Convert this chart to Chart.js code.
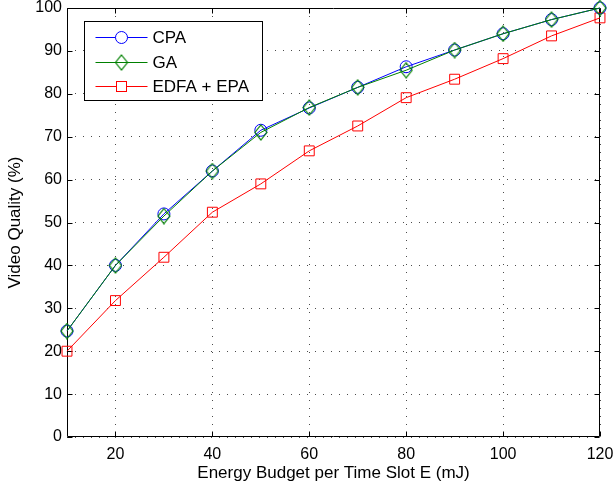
<!DOCTYPE html>
<html>
<head>
<meta charset="utf-8">
<title>Video Quality vs Energy Budget</title>
<script src="https://cdn.jsdelivr.net/npm/chart.js"></script>
<style>
    html, body { margin: 0; padding: 0; background: #fff; }
    #wrap { width: 615px; height: 489px; }
</style>
</head>
<body>
<div id="wrap"><canvas id="qualityChart" width="615" height="489"></canvas></div>
<script>
    // data
    const energyBudget = [10, 20, 30, 40, 50, 60, 70, 80, 90, 100, 110, 120];
    const cpaQuality  = [24.7, 40.0, 52.0, 62.0, 71.5, 76.7, 81.5, 86.3, 90.2, 94.0, 97.3, 100.0];
    const gaQuality   = [24.7, 40.0, 51.5, 62.0, 71.0, 76.8, 81.5, 85.5, 90.2, 94.0, 97.3, 100.0];
    const edfaQuality = [20.0, 31.8, 41.9, 52.4, 59.0, 66.7, 72.5, 79.1, 83.4, 88.2, 93.5, 97.7];
    const xTicks = [20, 40, 60, 80, 100, 120];
    const yTicks = [0, 10, 20, 30, 40, 50, 60, 70, 80, 90, 100];
    const seriesNames = ['CPA', 'GA', 'EDFA + EPA'];

    const FONT = "'Liberation Sans', Arial, Helvetica, sans-serif";
    const BLUE = '#0000ff', GREEN = '#008000', RED = '#ff0000';

    // tall diamond marker like the matlab one
    function makeDiamond(color, w, h) {
        const c = document.createElement('canvas');
        c.width = w + 2;
        c.height = h + 2;
        const g = c.getContext('2d');
        g.strokeStyle = color;
        g.lineWidth = 1.2;
        g.beginPath();
        g.moveTo(c.width / 2, 1);
        g.lineTo(c.width - 1, c.height / 2);
        g.lineTo(c.width / 2, c.height - 1);
        g.lineTo(1, c.height / 2);
        g.closePath();
        g.stroke();
        return c;
    }
    const diamond = makeDiamond(GREEN, 12, 15);

    const toPoints = (ys) => energyBudget.map((x, i) => ({ x: x, y: ys[i] }));

    // box round the plot with inward tick marks
    const framePlugin = {
        id: 'frame',
        beforeDatasetsDraw(chart) {
            const { ctx, chartArea: a, scales } = chart;
            const L = Math.round(a.left) + 0.5, R = Math.round(a.right) - 0.5;
            const T = Math.round(a.top) + 0.5, B = Math.round(a.bottom) - 0.5;
            ctx.save();
            ctx.strokeStyle = '#000';
            ctx.lineWidth = 1;
            ctx.beginPath();
            ctx.rect(L, T, R - L, B - T);
            xTicks.forEach(v => {
                const px = Math.round(scales.x.getPixelForValue(v)) + 0.5;
                ctx.moveTo(px, B); ctx.lineTo(px, B - 5);
                ctx.moveTo(px, T); ctx.lineTo(px, T + 5);
            });
            yTicks.forEach(v => {
                const py = Math.round(scales.y.getPixelForValue(v)) + 0.5;
                ctx.moveTo(L, py); ctx.lineTo(L + 5, py);
                ctx.moveTo(R, py); ctx.lineTo(R - 5, py);
            });
            ctx.stroke();
            ctx.restore();
        }
    };

    const legendPlugin = {
        id: 'boxLegend',
        afterDraw(chart) {
            const { ctx, chartArea: a } = chart;
            const bx = Math.round(a.left) + 17.5, by = Math.round(a.top) + 13.5;
            const bw = 178, bh = 79;
            ctx.save();
            ctx.fillStyle = '#fff';
            ctx.fillRect(bx, by, bw, bh);
            ctx.strokeStyle = '#000';
            ctx.lineWidth = 1;
            ctx.strokeRect(bx, by, bw, bh);

            const colors = [BLUE, GREEN, RED];
            const rows = [15.5, 40, 64.5];
            ctx.font = '17px ' + FONT;
            ctx.textBaseline = 'middle';
            ctx.textAlign = 'left';
            rows.forEach((dy, i) => {
                const y = Math.round(by + dy) + 0.5;
                const mx = bx + 37;
                ctx.strokeStyle = colors[i];
                ctx.beginPath();
                ctx.moveTo(bx + 11, y);
                ctx.lineTo(bx + 63, y);
                ctx.stroke();
                if (i === 0) {
                    ctx.beginPath();
                    ctx.fillStyle = '#fff';
                    ctx.arc(mx, y, 6, 0, Math.PI * 2);
                    ctx.fill();
                    ctx.stroke();
                } else if (i === 1) {
                    ctx.drawImage(diamond, mx - diamond.width / 2, y - diamond.height / 2);
                } else {
                    ctx.fillStyle = '#fff';
                    ctx.fillRect(mx - 5, y - 5, 10, 10);
                    ctx.strokeRect(mx - 5, y - 5, 10, 10);
                }
                ctx.fillStyle = '#000';
                ctx.fillText(seriesNames[i], bx + 68, y + 1);
            });
            ctx.restore();
        }
    };

    const gridStyle = {
        color: 'rgba(0,0,0,0.7)',
        lineWidth: 1,
        drawTicks: false
    };

    new Chart(document.getElementById('qualityChart'), {
        type: 'line',
        data: {
            datasets: [
                {
                    label: seriesNames[0],
                    data: toPoints(cpaQuality),
                    borderColor: BLUE,
                    borderWidth: 1,
                    pointStyle: 'circle',
                    pointRadius: 6,
                    pointBorderWidth: 1,
                    pointBorderColor: BLUE,
                    pointBackgroundColor: 'transparent',
                    tension: 0,
                    clip: false,
                    order: 2
                },
                {
                    label: seriesNames[1],
                    data: toPoints(gaQuality),
                    borderColor: GREEN,
                    borderWidth: 1,
                    pointStyle: diamond,
                    tension: 0,
                    clip: false,
                    order: 1
                },
                {
                    label: seriesNames[2],
                    data: toPoints(edfaQuality),
                    borderColor: RED,
                    borderWidth: 1,
                    pointStyle: 'rect',
                    pointRadius: 7,
                    pointBorderWidth: 1,
                    pointBorderColor: RED,
                    pointBackgroundColor: 'transparent',
                    tension: 0,
                    clip: false,
                    order: 3
                }
            ]
        },
        options: {
            responsive: false,
            animation: false,
            devicePixelRatio: 1,
            layout: { padding: { top: 7, right: 15, left: 0, bottom: 0 } },
            plugins: {
                legend: { display: false },
                tooltip: { enabled: false }
            },
            scales: {
                x: {
                    type: 'linear',
                    min: 10,
                    max: 120,
                    afterBuildTicks: (axis) => { axis.ticks = xTicks.map(v => ({ value: v })); },
                    afterFit: (axis) => {
                        axis.height = 52;
                        axis.paddingLeft = 0;
                        axis.paddingRight = 0;
                    },
                    grid: gridStyle,
                    border: { display: false, dash: [1, 7] },
                    ticks: {
                        color: '#000',
                        padding: 8,
                        maxRotation: 0,
                        font: { family: FONT, size: 16 }
                    },
                    title: {
                        display: true,
                        text: 'Energy Budget per Time Slot E (mJ)',
                        color: '#000',
                        font: { family: FONT, size: 17 },
                        padding: { top: 0, bottom: 5 }
                    }
                },
                y: {
                    min: 0,
                    max: 100,
                    afterBuildTicks: (axis) => { axis.ticks = yTicks.map(v => ({ value: v })); },
                    afterFit: (axis) => {
                        axis.width = 67;
                        axis.paddingTop = 0;
                        axis.paddingBottom = 0;
                    },
                    grid: gridStyle,
                    border: { display: false, dash: [1, 7] },
                    ticks: {
                        color: '#000',
                        padding: 5,
                        font: { family: FONT, size: 16 }
                    },
                    title: {
                        display: true,
                        text: 'Video Quality (%)',
                        color: '#000',
                        font: { family: FONT, size: 17 },
                        padding: { top: 5, bottom: 0 }
                    }
                }
            }
        },
        plugins: [framePlugin, legendPlugin]
    });
</script>
</body>
</html>
